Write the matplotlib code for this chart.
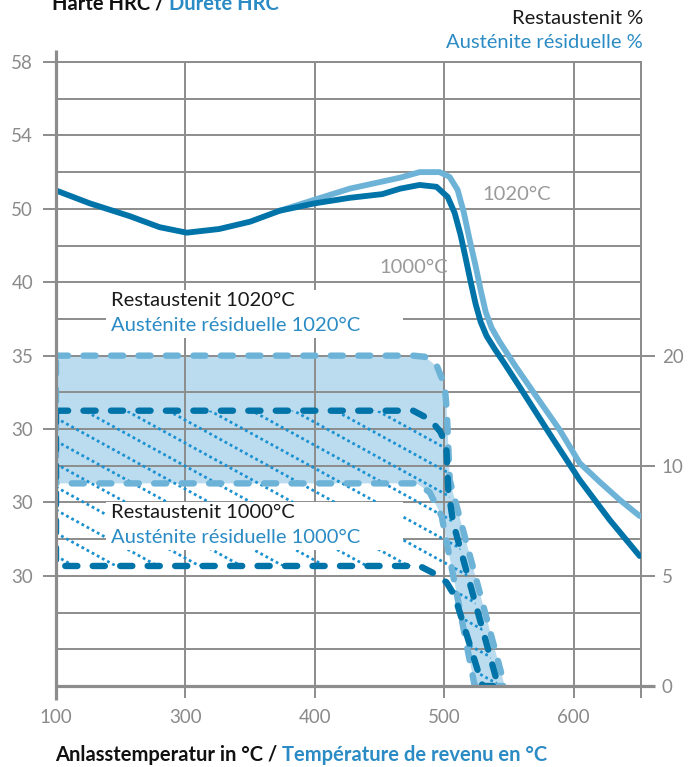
import numpy as np
import matplotlib
matplotlib.use("Agg")
import matplotlib.pyplot as plt
from matplotlib.patches import Polygon, Rectangle

plt.rcParams['font.family'] = ['Lato', 'DejaVu Sans']

DARK = '#0073A8'
LIGHT = '#6DB3D8'
FILL = '#BBDBEE'
HATCH = '#1A91D1'
BLUE_TXT = '#2B8BC4'
GRID = '#8C8C8C'
GRAY_TXT = '#8A8A8A'
CURVE_TXT = '#9A9A9A'
FS = 14.5

# hardness curves (left axis, HRC)
temp_1000 = [200, 226, 257, 280, 301, 326, 350, 373, 400, 427, 452, 466, 481, 494,
             502.6, 508, 512.6, 516.5, 520.4, 524.2, 528.1, 532.7, 538.9, 546.7, 558.3,
             581.5, 604.6, 627.8, 651]
hrc_1000 = [51.0, 50.3, 49.6, 49.0, 48.7, 48.9, 49.3, 49.9, 50.3, 50.6, 50.8, 51.1, 51.3, 51.2,
            50.65, 49.78, 48.58, 47.32, 46.02, 44.82, 43.84, 43.07, 42.37, 41.55, 40.29,
            37.73, 35.23, 33.05, 31.08]
temp_1020 = [373, 400, 427, 466, 481, 496.4, 504.1, 510.3, 515, 519.6, 524.2, 528.1, 532,
             536.6, 542.8, 554.4, 571.4, 589.2, 604.6, 620.1, 635.6, 651]
hrc_1020 = [49.9, 50.5, 51.1, 51.7, 52.0, 52.0, 51.74, 51.03, 49.83, 48.31, 46.89, 45.58, 44.38,
            43.51, 42.75, 41.49, 39.75, 37.95, 36.15, 35.12, 34.14, 33.26]

# retained austenite bands (right axis, %)
light_outer_t = [200, 476, 485, 494.5, 500.3, 501.9, 504.2, 546.7]
light_outer_pct = [20, 20, 19.9, 19.0, 17.3, 15.1, 9.35, 0]
light_inner_t = [200, 478.7, 488.7, 498, 502.6, 523.5]
light_inner_pct = [9.2, 9.2, 8.8, 7.7, 6.3, 0]
dark_outer_t = [200, 476, 489, 496.9, 501.5, 503.1, 506.9, 541.7]
dark_outer_pct = [15, 15, 14.2, 13.1, 11.9, 8.9, 7.4, 0]
dark_inner_t = [200, 480.9, 492.5, 501.8, 508, 529.6]
dark_inner_pct = [5.45, 5.45, 5.1, 4.7, 4.1, 0]

# axis labelling as printed on the chart
x_ticks = [200, 300, 400, 500, 600, 652]
x_labels = ['100', '300', '400', '500', '600', '']
left_ticks = [58, 54, 50, 46, 42, 38, 34, 30]
left_labels = ['58', '54', '50', '40', '35', '30', '30', '30']
right_ticks = [0, 5, 10, 20]
right_labels = ['0', '5', '10', '20']
pct_pts = [0, 10, 20, 50]
pos_pts = [0, 6, 9, 18]


def fwd(p):
    return np.interp(p, pct_pts, pos_pts)


def inv(g):
    return np.interp(g, pos_pts, pct_pts)


fig = plt.figure(figsize=(6.88, 7.67), dpi=100)
ax = fig.add_axes([56 / 688, 81 / 767, 585 / 688, 624 / 767])
ax.set_xlim(200, 652)
ax.set_ylim(24, 58)

ax2 = ax.twinx()
ax2.set_yscale('function', functions=(fwd, inv))
ax2.set_ylim(0, inv(17))

for a in (ax, ax2):
    for s in a.spines.values():
        s.set_visible(False)
for side in ('right', 'top'):
    ax.spines[side].set_visible(True)
    ax.spines[side].set_color(GRID)
    ax.spines[side].set_linewidth(1.4)

ax.set_xticks(x_ticks, x_labels)
ax.set_yticks(left_ticks, left_labels)
ax.set_yticks(np.arange(26, 58, 2), minor=True)
ax.set_axisbelow('line')
ax.grid(True, which='both', color=GRID, lw=1.4)
ax.tick_params(axis='y', which='major', length=9.4, width=1.4, color=GRID,
               labelcolor=GRAY_TXT, labelsize=13.5, pad=7)
ax.tick_params(axis='y', which='minor', length=0)
ax.tick_params(axis='x', length=8.6, width=1.4, color=GRID,
               labelcolor=GRAY_TXT, labelsize=13.5, pad=8)
ax2.set_yticks(right_ticks, right_labels)
ax2.yaxis.set_minor_locator(matplotlib.ticker.NullLocator())
ax2.tick_params(axis='y', length=10, width=1.4, color=GRID,
                labelcolor=GRAY_TXT, labelsize=13.5, pad=5)

# heavier left and bottom axis lines, running past the grid
ax.plot([0, 0], [-14 / 624, 1 + 12 / 624], transform=ax.transAxes, color=GRID,
        lw=2.3, clip_on=False, zorder=6, solid_capstyle='butt')
ax.plot([0, 1 + 14 / 585], [0, 0], transform=ax.transAxes, color=GRID,
        lw=2.3, clip_on=False, zorder=6, solid_capstyle='butt')

# austenite bands, drawn in right-axis units
tr = ax2.transData
light_xy = list(zip(light_outer_t, light_outer_pct)) + list(zip(light_inner_t, light_inner_pct))[::-1]
dark_xy = list(zip(dark_outer_t, dark_outer_pct)) + list(zip(dark_inner_t, dark_inner_pct))[::-1]

ax.add_patch(Polygon(light_xy, closed=True, transform=tr, facecolor=FILL,
                     edgecolor='none', zorder=1))
dark_edge = Polygon(dark_xy, closed=True, transform=tr, fill=False, edgecolor=DARK,
                    lw=4.6, linestyle=(0, (1.9, 2.4)), capstyle='round',
                    joinstyle='round', zorder=2.6)

# dotted hatch inside the 1000 degC band
k = 0.55 * 585 / 624
for c in np.arange(0.4295 - 0.03686 * 20, 1.6, 0.03686):
    ln, = ax.plot([0, 1], [c, c - k], transform=ax.transAxes, color=HATCH, lw=2.0,
                  linestyle=(0, (1.0, 1.1)), dash_capstyle='butt', zorder=2.0)
    ln.set_clip_path(dark_edge)

ax.add_patch(Polygon(light_xy, closed=True, transform=tr, fill=False, edgecolor=LIGHT,
                     lw=4.6, linestyle=(0, (1.9, 2.4)), capstyle='round',
                     joinstyle='round', zorder=2.4))
ax.add_patch(dark_edge)

# label boxes
for y0, top, bottom in [(42.97, 'Restaustenit 1020°C', 'Austénite résiduelle 1020°C'),
                        (31.41, 'Restaustenit 1000°C', 'Austénite résiduelle 1000°C')]:
    ax.add_patch(Rectangle((238.9, y0), 228.9, 2.62, facecolor='white',
                           edgecolor='none', zorder=3))
    ax.text(242.8, y0 + 2.06, top, color='#1a1a1a', fontsize=FS, va='center', zorder=4)
    ax.text(242.8, y0 + 0.69, bottom, color=BLUE_TXT, fontsize=FS, va='center', zorder=4)

# hardness curves
ax.plot(temp_1020, hrc_1020, color=LIGHT, lw=4.2, solid_capstyle='round', zorder=5)
ax.plot(temp_1000, hrc_1000, color=DARK, lw=4.2, solid_capstyle='round', zorder=5.1)
ax.text(529.6, 50.76, '1020°C', color=CURVE_TXT, fontsize=FS, va='center', zorder=6)
ax.text(450, 46.78, '1000°C', color=CURVE_TXT, fontsize=FS, va='center', zorder=6)

# titles
fig.text(643 / 688, 1 - 18 / 767, 'Restaustenit %', color='#1a1a1a', fontsize=FS,
         ha='right', va='center')
fig.text(643 / 688, 1 - 42 / 767, 'Austénite résiduelle %', color=BLUE_TXT, fontsize=FS,
         ha='right', va='center')


def two_tone(x, y, first, second):
    t = fig.text(x, y, first, color='#111111', fontsize=FS, fontweight='bold',
                 va='baseline')
    fig.canvas.draw()
    bb = t.get_window_extent()
    fig.text((bb.x1 + 5) / fig.bbox.width, y, second, color=BLUE_TXT, fontsize=FS,
             fontweight='bold', va='baseline')


two_tone(52 / 688, 1 - 10 / 767, 'Härte HRC /', 'Dureté HRC')
two_tone(55 / 688, 1 - 761 / 767, 'Anlasstemperatur in °C /', 'Température de revenu en °C')

fig.savefig('out.png', dpi=100)
